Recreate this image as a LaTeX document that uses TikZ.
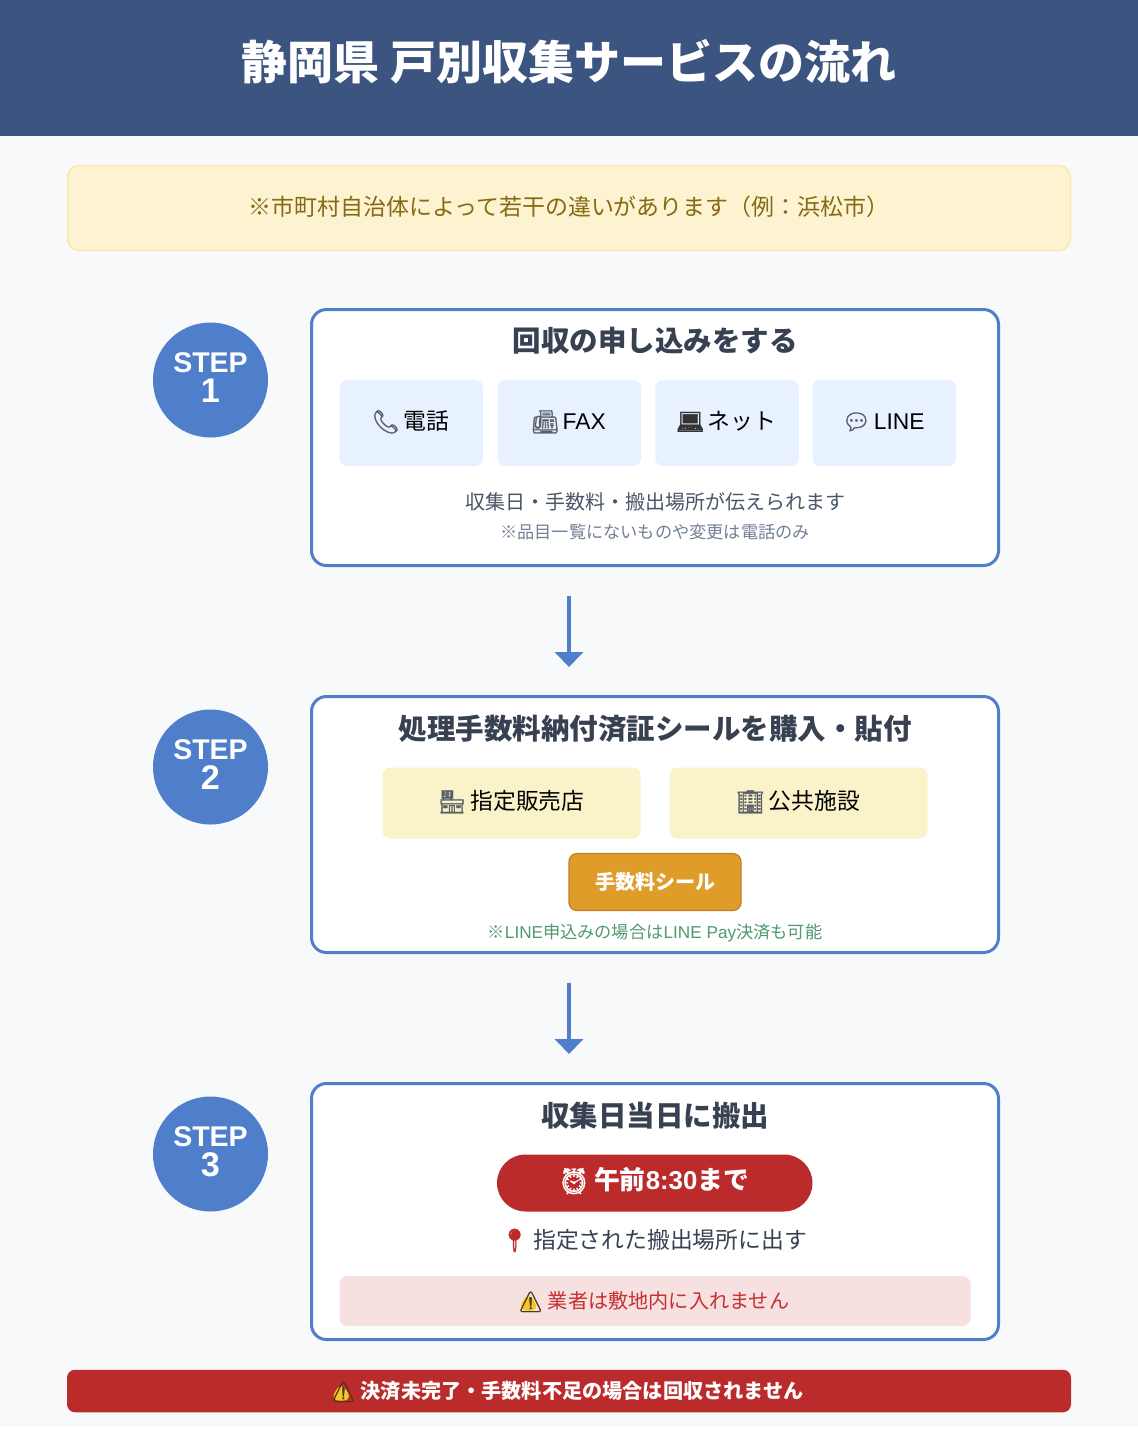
\documentclass[tikz,border=0pt]{standalone}
\usepackage{fontspec}
\usetikzlibrary{arrows.meta}
\setmainfont{Liberation Sans}
\newfontfamily\jp{Noto Sans CJK JP}
\newfontfamily\emofont[FakeBold=1.5]{Noto Emoji}
\newfontfamily\lat{Liberation Sans}
\newcommand\fs[1]{\fontsize{#1}{#1}\selectfont}
\newcommand\st{\rule[-.12em]{0pt}{1em}}
\newcommand\emo[2]{\smash{\textcolor{#1}{\emofont #2}}}
\newcommand\warnico[1]{\smash{\rlap{\raisebox{-.1em}{\tikz[x=1em,y=1em]\fill[warn,draw=warn,line join=round,line width=.08em] (.1,.05)--(1.08,.05)--(.59,.88)--cycle;}}\textcolor{#1}{\emofont ⚠}}}
\definecolor{pagebg}{HTML}{F8F9FB}
\definecolor{headbg}{HTML}{3C5480}
\definecolor{blue}{HTML}{4F7FCB}
\definecolor{noticebg}{HTML}{FDF3D0}
\definecolor{noticeln}{HTML}{F9E9B0}
\definecolor{noticetx}{HTML}{856A15}
\definecolor{titletx}{HTML}{374151}
\definecolor{subtx}{HTML}{4A5568}
\definecolor{smalltx}{HTML}{718096}
\definecolor{ltblue}{HTML}{E7F1FF}
\definecolor{ltyellow}{HTML}{FAF3C9}
\definecolor{seal}{HTML}{E09C28}
\definecolor{sealln}{HTML}{C27E2A}
\definecolor{green}{HTML}{4F9A6F}
\definecolor{red}{HTML}{BB2B2B}
\definecolor{pinkbg}{HTML}{F6E0E0}
\definecolor{pinktx}{HTML}{C53030}
\definecolor{warn}{HTML}{F2C52E}
\definecolor{warndk}{HTML}{4A3C10}
\definecolor{icon}{HTML}{5A5F66}
\tikzset{
  txt/.style={inner sep=0pt,outer sep=0pt},
  box/.style={txt,rounded corners=#1},
  card/.style={box=15pt,draw=blue,line width=3pt,fill=white,minimum width=687pt,minimum height=256pt},
  stepc/.style={circle,fill=blue,text=white,minimum size=115pt,inner sep=0pt,align=center,font=\bfseries},
  opt/.style={box=8pt,fill=ltblue,minimum width=143.5pt,minimum height=86pt,font=\fs{22.8}\jp,text=black},
  shop/.style={box=8pt,fill=ltyellow,minimum width=258pt,minimum height=71pt,font=\fs{22.8}\jp,text=black},
  ttl/.style={txt,font=\fs{28.5}\jp\bfseries,text=titletx},
  flow/.style={draw=blue,line width=4.6pt,-{Triangle[width=28pt,length=15pt]}}
}
\begin{document}
\begin{tikzpicture}[x=1pt,y=-1pt]
\useasboundingbox (0,0) rectangle (1138,1452);
\fill[white] (0,0) rectangle (1138,1452);
\fill[pagebg] (0,0) rectangle (1138,1427);
\node[txt,fill=headbg,minimum width=1138pt,minimum height=136pt,text=white,font=\fs{46}\jp\bfseries] (head) at (569,68) {\raisebox{17.5pt}{\st 静岡県 戸別収集サービスの流れ}};
\node[box=12pt,draw=noticeln,line width=1.5pt,fill=noticebg,minimum width=1003pt,minimum height=85pt,text=noticetx,font=\fs{22.95}\jp] (notice) at (569,208) {\raisebox{4.5pt}{\st ※市町村自治体によって若干の違いがあります（例：浜松市）}};

% STEP 1
\node[stepc] (s1) at (210.5,380) {\fontsize{28.5}{29}\bfseries\selectfont STEP\\[5pt]\fontsize{34.2}{29}\bfseries\selectfont 1\rule[-5pt]{0pt}{0pt}};
\node[card] (c1) at (655,437.5) {};
\node[ttl] (t1) at (655,340.5) {\st 回収の申し込みをする};
\node[opt] (o1) at (411.25,423) {\raisebox{6.7pt}{\emo{icon}{📞}\kern-2pt\ \st 電話\kern2pt}};
\node[opt] (o2) at (569.25,423) {\raisebox{6.7pt}{\emo{icon}{📠}\kern-2pt\ \st{\lat FAX}\kern2pt}};
\node[opt] (o3) at (727,423) {\raisebox{6.7pt}{\emo{black!80}{💻}\kern-2pt\ \st ネット\kern2pt}};
\node[opt] (o4) at (884.25,423) {\raisebox{6.7pt}{\emo{icon}{💬}\kern-2pt\ \st{\lat LINE}\kern2pt}};
\node[txt,font=\fs{20}\jp,text=subtx] (n1) at (655,501.5) {\st 収集日・手数料・搬出場所が伝えられます};
\node[txt,font=\fs{17.2}\jp,text=smalltx] (n2) at (655,531.5) {\st ※品目一覧にないものや変更は電話のみ};

% STEP 2
\node[stepc] (s2) at (210.5,767) {\fontsize{28.5}{29}\bfseries\selectfont STEP\\[5pt]\fontsize{34.2}{29}\bfseries\selectfont 2\rule[-5pt]{0pt}{0pt}};
\node[card] (c2) at (655,824.5) {};
\node[ttl] (t2) at (655,728.5) {\st 処理手数料納付済証シールを購入・貼付};
\node[shop] (h1) at (511.5,803) {\raisebox{6.7pt}{\emo{icon}{🏪}\kern-1pt\ \st 指定販売店\kern1pt}};
\node[shop] (h2) at (798.5,803) {\raisebox{6.7pt}{\emo{icon}{🏢}\kern-1pt\ \st 公共施設\kern1pt}};
\node[box=8pt,draw=sealln,line width=1.2pt,fill=seal,minimum width=172pt,minimum height=57pt,text=white,font=\fs{20}\jp\bfseries] (sl) at (655,882) {\st 手数料シール};
\node[txt,font=\fs{17.2}\jp,text=green] (n3) at (655,933) {\st ※{\lat LINE}申込みの場合は{\lat LINE Pay}決済も可能};

% STEP 3
\node[stepc] (s3) at (210.5,1154) {\fontsize{28.5}{29}\bfseries\selectfont STEP\\[5pt]\fontsize{34.2}{29}\bfseries\selectfont 3\rule[-5pt]{0pt}{0pt}};
\node[card] (c3) at (655,1211.5) {};
\node[ttl] (t3) at (655,1115.5) {\st 収集日当日に搬出};
\node[box=28.5pt,fill=red,minimum width=315.5pt,minimum height=57pt,text=white,font=\fs{25.8}\jp\bfseries] (p3) at (654.75,1183) {\raisebox{9pt}{\emo{white}{⏰}\kern-2pt\ \st 午前{\lat 8:30}まで\kern3pt}};
\node[txt,font=\fs{22.8}\jp,text=titletx] (n4) at (655,1239.5) {\emo{red}{📍}\kern-1pt\ \st 指定された搬出場所に出す\kern3pt};
\node[box=8pt,fill=pinkbg,minimum width=631pt,minimum height=50pt,text=pinktx,font=\fs{20.15}\jp] (w1) at (655,1301) {\warnico{warndk} \st 業者は敷地内に入れません\kern3pt};

% bottom bar
\node[box=8pt,fill=red,minimum width=1004pt,minimum height=42.5pt,text=white,font=\fs{20.15}\jp\bfseries] (bar) at (569,1391) {\warnico{warndk} \st 決済未完了・手数料不足の場合は回収されません\kern4pt};

% connectors
\coordinate (a1s) at (569,595.5);
\coordinate (a1e) at (569,667);
\coordinate (a2s) at (569,982.5);
\coordinate (a2e) at (569,1054);
\draw[flow] (a1s) -- (a1e);
\draw[flow] (a2s) -- (a2e);
\end{tikzpicture}
\end{document}
